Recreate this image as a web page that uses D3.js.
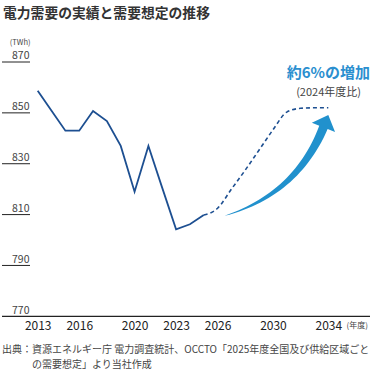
<!DOCTYPE html>
<meta charset="utf-8">
<style>
body { margin: 0; background: #fff; }
text { font-family: "Noto Sans CJK JP", "Noto Sans", sans-serif; }
.title { font-size: 13.8px; font-weight: bold; fill: #333; }
.ytick text { font-size: 10.5px; fill: #444; }
.ytick line { stroke: #222; stroke-width: 1px; }
.xaxis text { font-size: 12px; fill: #222; }
.unit { font-size: 7.5px; fill: #444; }
.actual { fill: none; stroke: #1d4f91; stroke-width: 1.8px; }
.forecast { fill: none; stroke: #1d4f91; stroke-width: 1.6px; stroke-dasharray: 4,3; }
.note { font-size: 10px; fill: #444; }
</style>
<body>
<script src="https://cdn.jsdelivr.net/npm/d3@7"></script>
<script>

// actual demand (TWh), FY2013-2025
var actualYears = [2013, 2014, 2015, 2016, 2017, 2018, 2019, 2020, 2021, 2022, 2023, 2024, 2025];
var actualValues = [858.7, 850.8, 843.0, 843.0, 850.7, 846.8, 837.0, 819.0, 837.0, 820.5, 804.2, 806.2, 809.8];

// forecast (OCCTO), FY2025-2034
var forecastYears = [2025, 2026, 2027, 2028, 2029, 2030, 2031, 2032, 2033, 2034];
var forecastValues = [809.8, 812.5, 820.0, 827.5, 835.4, 843.3, 850.3, 851.8, 852.0, 852.0];

var yTicks = [870, 850, 830, 810, 790, 770];
var xTicks = [2013, 2016, 2020, 2023, 2026, 2030, 2034];

var width = 370,
    height = 371;

var x = d3.scaleLinear().domain([2013, 2034]).range([37.7, 328.3]);
var y = d3.scaleLinear().domain([770, 870]).range([316.3, 62]);

var svg = d3.select("body").append("svg")
    .attr("width", width)
    .attr("height", height);

svg.append("text")
    .attr("class", "title")
    .attr("x", 3)
    .attr("y", 18)
    .text("電力需要の実績と需要想定の推移");

svg.append("text")
    .attr("class", "unit")
    .attr("x", 30.5)
    .attr("y", 45)
    .attr("text-anchor", "end")
    .text("(TWh)");

// y ticks: short rules with label above (770 sits on the x axis)
var yt = svg.append("g").selectAll("g")
    .data(yTicks)
  .enter().append("g")
    .attr("class", "ytick")
    .attr("transform", function(d) { return "translate(0," + y(d) + ")"; });

yt.filter(function(d) { return d !== 770; }).append("line")
    .attr("x1", 2).attr("x2", 30);

yt.append("text")
    .attr("x", 29.5)
    .attr("y", -2.8)
    .attr("text-anchor", "end")
    .text(function(d) { return d; });

// x axis
var xAxis = svg.append("g")
    .attr("class", "xaxis")
    .attr("transform", "translate(0," + y(770) + ")")
    .call(d3.axisBottom(x).tickValues(xTicks).tickFormat(d3.format("d")).tickSize(0).tickPadding(5));
xAxis.select(".domain").remove();
xAxis.selectAll("text").attr("font-family", null).attr("font-size", null);

svg.append("line")
    .attr("x1", 2).attr("x2", 370)
    .attr("y1", y(770)).attr("y2", y(770))
    .style("stroke", "#222")
    .style("stroke-width", 1.2);

svg.append("text")
    .attr("class", "unit")
    .attr("x", 368)
    .attr("y", y(770) + 12)
    .attr("text-anchor", "end")
    .style("font-size", "8px")
    .text("(年度)");

// lines
var line = d3.line()
    .x(function(d) { return x(d[0]); })
    .y(function(d) { return y(d[1]); });

svg.append("path")
    .attr("class", "actual")
    .attr("d", line(d3.zip(actualYears, actualValues)));

svg.append("path")
    .attr("class", "forecast")
    .attr("d", line.curve(d3.curveMonotoneX)(d3.zip(forecastYears, forecastValues)));

// curved growth arrow
function arrowPath(t0, c, b, tip, shaftW, headW) {
  var left = [], right = [], n = 30, i;
  for (i = 0; i <= n; i++) {
    var t = i / n,
        px = (1-t)*(1-t)*t0[0] + 2*(1-t)*t*c[0] + t*t*b[0],
        py = (1-t)*(1-t)*t0[1] + 2*(1-t)*t*c[1] + t*t*b[1],
        dx = 2*(1-t)*(c[0]-t0[0]) + 2*t*(b[0]-c[0]),
        dy = 2*(1-t)*(c[1]-t0[1]) + 2*t*(b[1]-c[1]),
        len = Math.sqrt(dx*dx + dy*dy),
        nx = -dy / len, ny = dx / len,
        w = shaftW / 2 * Math.pow(t, 0.8);
    left.push([px + nx*w, py + ny*w]);
    right.push([px - nx*w, py - ny*w]);
  }
  var ex = b[0]-c[0], ey = b[1]-c[1], el = Math.sqrt(ex*ex + ey*ey);
  var nx2 = -ey / el, ny2 = ex / el;
  var p = d3.path();
  p.moveTo(left[0][0], left[0][1]);
  for (i = 1; i <= n; i++) p.lineTo(left[i][0], left[i][1]);
  p.lineTo(b[0] + nx2*headW/2, b[1] + ny2*headW/2);
  p.lineTo(tip[0], tip[1]);
  p.lineTo(b[0] - nx2*headW/2, b[1] - ny2*headW/2);
  for (i = n; i >= 0; i--) p.lineTo(right[i][0], right[i][1]);
  p.closePath();
  return p.toString();
}

svg.append("path")
    .attr("d", arrowPath([x(2026.5), y(809.5)], [x(2031.7), y(818)], [x(2033.65), y(844.3)],
                         [x(2034), y(849.2)], 9, 25))
    .style("fill", "#2191cd");

svg.append("text")
    .attr("x", 370)
    .attr("y", 78)
    .attr("text-anchor", "end")
    .style("font-size", "15px")
    .style("font-weight", "bold")
    .style("fill", "#2b8fcf")
    .text("約6%の増加");

svg.append("text")
    .attr("x", 361)
    .attr("y", 96)
    .attr("text-anchor", "end")
    .style("font-size", "11px")
    .style("fill", "#444")
    .text("(2024年度比)");

// source note
svg.append("text")
    .attr("class", "note")
    .attr("x", 2)
    .attr("y", 353)
    .text("出典：資源エネルギー庁 電力調査統計、OCCTO「2025年度全国及び供給区域ごと");

svg.append("text")
    .attr("class", "note")
    .attr("x", 32)
    .attr("y", 368)
    .text("の需要想定」より当社作成");

</script>
